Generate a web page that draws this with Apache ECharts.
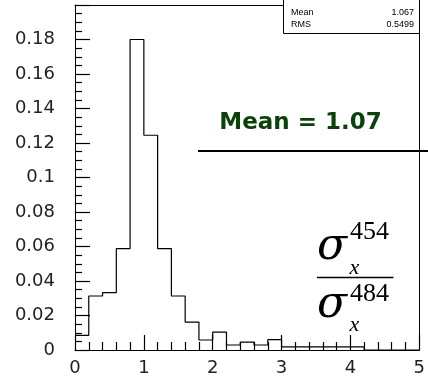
<!DOCTYPE html>
<html>
<head>
<meta charset="utf-8">
<script src="https://cdn.jsdelivr.net/npm/echarts@6/dist/echarts.min.js"></script>
<style>
  html, body { margin: 0; padding: 0; background: #fff; }
  #chart { width: 428px; height: 377px; }
</style>
</head>
<body>
<div id="chart"></div>
<script>
// Bin low edges (width 0.2) and normalised bin contents
const binEdges = [0.0, 0.2, 0.4, 0.6, 0.8, 1.0, 1.2, 1.4, 1.6, 1.8,
                  2.0, 2.2, 2.4, 2.6, 2.8, 3.0, 3.2, 3.4, 3.6, 3.8,
                  4.0, 4.2, 4.4, 4.6, 4.8, 5.0];
const binValues = [0.0085, 0.0313, 0.0333, 0.0588, 0.1800, 0.1245, 0.0588, 0.0313, 0.0162, 0.0058,
                   0.0104, 0.0029, 0.0046, 0.0029, 0.0060, 0.0018, 0.0018, 0.0018, 0.0018, 0.0018,
                   0.0018, 0, 0, 0, 0];
// Statistics box entries
const statNames = ['Mean', 'RMS'];
const statValues = ['1.067', '0.5499'];
const meanLabel = 'Mean = 1.07';

// Step outline: each point sits on a bin's low edge, the last one closes the final bin
const stepData = binEdges.map((x, i) => [x, i < binValues.length ? binValues[i] : binValues[binValues.length - 1]]);

const chart = echarts.init(document.getElementById('chart'), null, { renderer: 'canvas' });
const labelFont = { fontFamily: 'DejaVu Sans', fontSize: 18, color: '#222' };
const frameAxis = {
  axisLine: { show: true, onZero: false, lineStyle: { color: '#000', width: 1 } },
  axisTick: { show: false }, axisLabel: { show: false }, splitLine: { show: false }
};

chart.setOption({
  animation: false,
  backgroundColor: '#fff',
  grid: { left: 75, top: 5, right: 8, bottom: 26 },
  xAxis: [{
    type: 'value', min: 0, max: 5, interval: 1, position: 'bottom',
    axisLine: { show: true, onZero: false, lineStyle: { color: '#000', width: 1 } },
    axisTick: { show: true, inside: true, length: 15, lineStyle: { color: '#000', width: 1.2 } },
    minorTick: { show: true, splitNumber: 5, length: 8, lineStyle: { color: '#000', width: 1.2 } },
    splitLine: { show: false },
    axisLabel: Object.assign({ margin: 9 }, labelFont)
  }, Object.assign({ type: 'value', min: 0, max: 5, position: 'top' }, frameAxis)],
  yAxis: [{
    type: 'value', min: 0, max: 0.2, interval: 0.02, position: 'left',
    axisLine: { show: true, onZero: false, lineStyle: { color: '#000', width: 1 } },
    axisTick: { show: true, inside: true, length: 15, lineStyle: { color: '#000', width: 1.2 } },
    minorTick: { show: true, splitNumber: 4, length: 7, lineStyle: { color: '#000', width: 1.2 } },
    splitLine: { show: false },
    axisLabel: Object.assign({
      margin: 20, showMaxLabel: false,
      formatter: v => String(+v.toFixed(2))
    }, labelFont)
  }, Object.assign({ type: 'value', min: 0, max: 0.2, position: 'right' }, frameAxis)],
  series: [{
    type: 'line',
    step: 'end',
    xAxisIndex: 0, yAxisIndex: 0,
    data: stepData,
    symbol: 'none',
    lineStyle: { color: '#000', width: 1.2 },
    z: 1
  }],
  graphic: [
    // statistics box
    { type: 'rect', shape: { x: 283.5, y: -1, width: 136, height: 34.5 }, style: { fill: '#fff', stroke: '#000', lineWidth: 1 }, z: 100 },
    { type: 'text', x: 291, y: 13, style: { text: statNames[0], font: '9px "Liberation Sans"', fill: '#000', textAlign: 'left', textVerticalAlign: 'middle' }, z: 101 },
    { type: 'text', x: 291, y: 25, style: { text: statNames[1], font: '9px "Liberation Sans"', fill: '#000', textAlign: 'left', textVerticalAlign: 'middle' }, z: 101 },
    { type: 'text', x: 414, y: 13, style: { text: statValues[0], font: '9px "Liberation Sans"', fill: '#000', textAlign: 'right', textVerticalAlign: 'middle' }, z: 101 },
    { type: 'text', x: 414, y: 25, style: { text: statValues[1], font: '9px "Liberation Sans"', fill: '#000', textAlign: 'right', textVerticalAlign: 'middle' }, z: 101 },
    // mean annotation and rule
    { type: 'text', x: 300.5, y: 123, style: { text: meanLabel, font: 'bold 23px "DejaVu Sans"', fill: '#0b420b', textAlign: 'center', textVerticalAlign: 'middle' }, z: 101 },
    { type: 'line', shape: { x1: 198, y1: 151, x2: 428, y2: 151 }, style: { stroke: '#000', lineWidth: 2 }, z: 101 },
    // ratio sigma_x^454 / sigma_x^484
    { type: 'text', x: 332, y: 248, style: { text: 'σ', font: 'italic 44px "DejaVu Serif"', fill: '#000', textAlign: 'center', textVerticalAlign: 'middle' }, z: 101 },
    { type: 'text', x: 369.5, y: 232.5, style: { text: '454', font: '26px "Liberation Serif"', fill: '#000', textAlign: 'center', textVerticalAlign: 'middle' }, z: 101 },
    { type: 'text', x: 354.5, y: 268, style: { text: 'x', font: 'italic 22px "Liberation Serif"', fill: '#000', textAlign: 'center', textVerticalAlign: 'middle' }, z: 101 },
    { type: 'line', shape: { x1: 317, y1: 277.5, x2: 393.5, y2: 277.5 }, style: { stroke: '#000', lineWidth: 1.5 }, z: 101 },
    { type: 'text', x: 332, y: 306, style: { text: 'σ', font: 'italic 44px "DejaVu Serif"', fill: '#000', textAlign: 'center', textVerticalAlign: 'middle' }, z: 101 },
    { type: 'text', x: 369.5, y: 294.5, style: { text: '484', font: '26px "Liberation Serif"', fill: '#000', textAlign: 'center', textVerticalAlign: 'middle' }, z: 101 },
    { type: 'text', x: 354.5, y: 325, style: { text: 'x', font: 'italic 22px "Liberation Serif"', fill: '#000', textAlign: 'center', textVerticalAlign: 'middle' }, z: 101 }
  ]
});
</script>
</body>
</html>
